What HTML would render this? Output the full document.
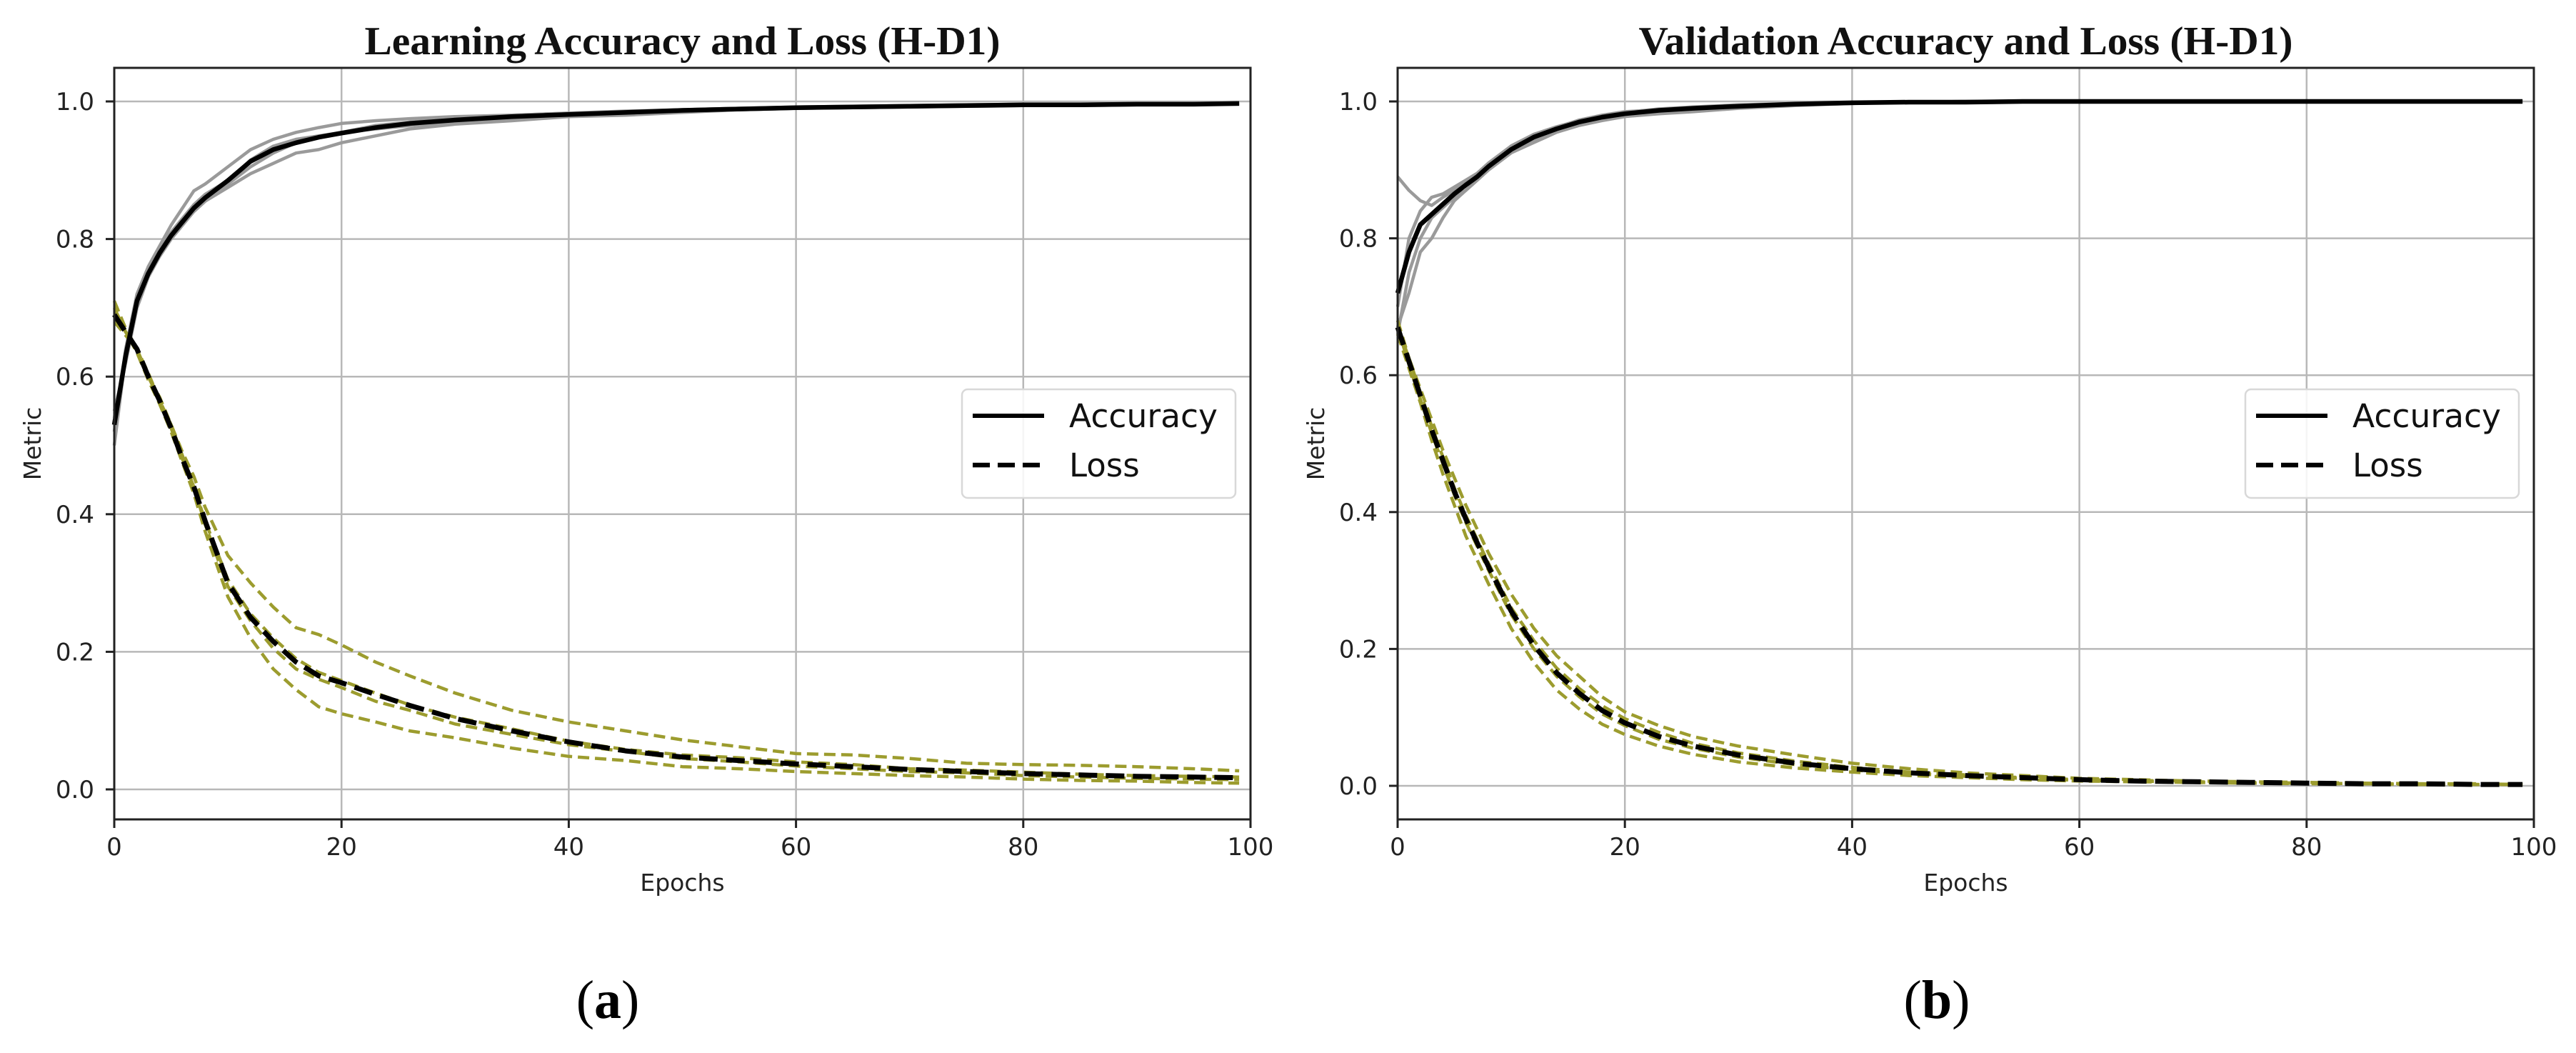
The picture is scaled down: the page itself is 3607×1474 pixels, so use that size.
<!DOCTYPE html>
<html><head><meta charset="utf-8"><style>
html,body{margin:0;padding:0;background:#fff}
svg{display:block}
</style></head><body>
<svg id="fig" width="3607" height="1474" viewBox="0 0 3607 1474" xmlns="http://www.w3.org/2000/svg">
<rect width="3607" height="1474" fill="#fff"/>
</svg>
<script>
const epochs = [0,1,2,3,4,5,6,7,8,10,12,14,16,18,20,23,26,30,35,40,45,50,55,60,65,70,75,80,85,90,95,99];
const xTicks = [0,20,40,60,80,100];
const yTicks = [0.0,0.2,0.4,0.6,0.8,1.0];
const yTickLabels = ["0.0","0.2","0.4","0.6","0.8","1.0"];

// Left (a) learning
const trainAccMean = [0.53,0.63,0.71,0.75,0.78,0.805,0.825,0.845,0.86,0.885,0.913,0.93,0.94,0.948,0.954,0.962,0.968,0.973,0.978,0.981,0.984,0.987,0.989,0.991,0.992,0.993,0.994,0.995,0.995,0.996,0.996,0.997];
const trainAccRun1 = [0.52,0.64,0.72,0.76,0.79,0.82,0.845,0.87,0.88,0.905,0.93,0.945,0.955,0.962,0.968,0.972,0.975,0.978,0.98,0.983,0.985,0.988,0.99,0.99,0.992,0.993,0.994,0.995,0.996,0.996,0.997,0.997];
const trainAccRun2 = [0.55,0.62,0.7,0.745,0.775,0.8,0.82,0.84,0.855,0.875,0.895,0.91,0.925,0.93,0.94,0.95,0.96,0.967,0.972,0.978,0.98,0.984,0.988,0.99,0.991,0.992,0.994,0.994,0.995,0.995,0.996,0.997];
const trainAccRun3 = [0.5,0.63,0.71,0.75,0.78,0.805,0.825,0.84,0.855,0.88,0.905,0.925,0.94,0.948,0.955,0.965,0.97,0.975,0.98,0.983,0.986,0.988,0.99,0.992,0.993,0.994,0.995,0.996,0.996,0.997,0.997,0.998];
const trainAccRun4 = [0.54,0.63,0.71,0.75,0.785,0.81,0.83,0.85,0.865,0.885,0.915,0.935,0.945,0.95,0.955,0.96,0.965,0.97,0.975,0.979,0.983,0.986,0.988,0.99,0.991,0.992,0.993,0.994,0.994,0.995,0.996,0.996];
const trainLossMean = [0.69,0.665,0.64,0.6,0.565,0.525,0.48,0.44,0.39,0.3,0.25,0.215,0.185,0.165,0.155,0.138,0.122,0.103,0.085,0.069,0.056,0.047,0.042,0.037,0.033,0.029,0.026,0.023,0.021,0.019,0.018,0.017];
const trainLossRun1 = [0.71,0.67,0.64,0.6,0.57,0.53,0.49,0.455,0.41,0.34,0.3,0.265,0.235,0.225,0.21,0.185,0.165,0.14,0.115,0.098,0.085,0.072,0.062,0.052,0.05,0.045,0.038,0.036,0.035,0.033,0.03,0.027];
const trainLossRun2 = [0.7,0.665,0.635,0.595,0.56,0.52,0.475,0.43,0.375,0.28,0.22,0.175,0.145,0.12,0.11,0.098,0.085,0.075,0.06,0.048,0.042,0.033,0.03,0.026,0.023,0.02,0.018,0.015,0.013,0.012,0.01,0.009];
const trainLossRun3 = [0.68,0.66,0.64,0.6,0.565,0.525,0.48,0.44,0.39,0.305,0.255,0.22,0.19,0.17,0.158,0.14,0.123,0.105,0.088,0.07,0.058,0.05,0.046,0.04,0.036,0.03,0.028,0.025,0.022,0.02,0.019,0.018];
const trainLossRun4 = [0.69,0.665,0.64,0.605,0.565,0.53,0.485,0.44,0.385,0.295,0.245,0.205,0.175,0.16,0.148,0.128,0.115,0.095,0.08,0.065,0.055,0.045,0.04,0.034,0.03,0.026,0.024,0.02,0.018,0.016,0.015,0.014];

// Right (b) validation
const valAccMean = [0.72,0.78,0.82,0.835,0.85,0.865,0.878,0.89,0.905,0.93,0.948,0.96,0.97,0.977,0.982,0.987,0.99,0.993,0.996,0.998,0.999,0.999,1.0,1.0,1.0,1.0,1.0,1.0,1.0,1.0,1.0,1.0];
const valAccRun1 = [0.89,0.87,0.855,0.848,0.86,0.87,0.88,0.893,0.905,0.935,0.952,0.962,0.973,0.98,0.985,0.988,0.991,0.994,0.996,0.998,0.999,1.0,1.0,1.0,1.0,1.0,1.0,1.0,1.0,1.0,1.0,1.0];
const valAccRun2 = [0.67,0.72,0.78,0.8,0.83,0.855,0.87,0.885,0.9,0.925,0.94,0.955,0.965,0.972,0.978,0.982,0.985,0.99,0.994,0.997,0.999,0.999,1.0,1.0,1.0,1.0,1.0,1.0,1.0,1.0,1.0,1.0];
const valAccRun3 = [0.7,0.8,0.84,0.86,0.865,0.875,0.885,0.895,0.91,0.935,0.952,0.963,0.972,0.979,0.984,0.989,0.992,0.995,0.997,0.998,0.999,1.0,1.0,1.0,1.0,1.0,1.0,1.0,1.0,1.0,1.0,1.0];
const valAccRun4 = [0.66,0.75,0.8,0.83,0.845,0.86,0.87,0.885,0.9,0.925,0.945,0.958,0.968,0.975,0.98,0.985,0.988,0.992,0.995,0.997,0.999,1.0,1.0,1.0,1.0,1.0,1.0,1.0,1.0,1.0,1.0,1.0];
const valLossMean = [0.67,0.62,0.57,0.52,0.475,0.43,0.39,0.355,0.32,0.255,0.205,0.165,0.135,0.11,0.092,0.072,0.058,0.045,0.033,0.025,0.019,0.015,0.012,0.009,0.007,0.006,0.005,0.004,0.003,0.003,0.002,0.002];
const valLossRun1 = [0.67,0.625,0.58,0.535,0.49,0.45,0.41,0.375,0.34,0.28,0.23,0.19,0.16,0.13,0.108,0.088,0.072,0.058,0.045,0.033,0.025,0.019,0.015,0.011,0.009,0.007,0.006,0.005,0.004,0.003,0.003,0.002];
const valLossRun2 = [0.66,0.61,0.56,0.505,0.455,0.41,0.365,0.33,0.295,0.23,0.18,0.14,0.112,0.09,0.075,0.058,0.046,0.035,0.026,0.02,0.015,0.012,0.009,0.007,0.006,0.005,0.004,0.003,0.003,0.002,0.002,0.002];
const valLossRun3 = [0.68,0.625,0.575,0.525,0.48,0.435,0.395,0.36,0.325,0.26,0.212,0.172,0.142,0.117,0.098,0.078,0.062,0.048,0.036,0.027,0.02,0.016,0.012,0.009,0.008,0.006,0.005,0.004,0.003,0.003,0.002,0.002];
const valLossRun4 = [0.67,0.615,0.565,0.515,0.47,0.425,0.385,0.35,0.315,0.25,0.2,0.16,0.13,0.105,0.088,0.068,0.055,0.042,0.031,0.023,0.018,0.014,0.011,0.008,0.007,0.005,0.004,0.004,0.003,0.002,0.002,0.002];

const NS = "http://www.w3.org/2000/svg";
const svg = document.getElementById('fig');
function mk(tag, attrs, parent){
  const e = document.createElementNS(NS, tag);
  for (const k in attrs) e.setAttribute(k, attrs[k]);
  (parent||svg).appendChild(e);
  return e;
}

function panel(cfg){
  const g = mk('g', {});
  
  
  const L=cfg.left, R=cfg.right, T=95, B=1147;
  const xs = v => L + (v/100)*(R-L);
  const ys = v => cfg.y0 - v*(cfg.y0-142);
  xTicks.forEach(t=>{
    const l = mk('line',{x1:xs(t),x2:xs(t),y1:T,y2:B,stroke:'#b8b8b8','stroke-width':2.5},g);
    
    
  });
  yTicks.forEach(t=>{
    const l = mk('line',{x1:L,x2:R,y1:ys(t),y2:ys(t),stroke:'#b8b8b8','stroke-width':2.5},g);
    
    
  });
  function line(arr, stroke, w, dash, nm){
    const pts = epochs.map((e,i)=>xs(e).toFixed(1)+','+ys(arr[i]).toFixed(1)).join(' ');
    const a = {points:pts,fill:'none',stroke:stroke,'stroke-width':w,'stroke-linejoin':'round'};
    if (dash) a['stroke-dasharray']=dash;
    const p = mk('polyline',a,g);
    
    
  }
  cfg.accRuns.forEach(r=>line(r,'#9a9a9a',4.5,null,'accuracy-run'));
  cfg.lossRuns.forEach(r=>line(r,'#9c9c2e',4.5,'16 8','loss-run'));
  line(cfg.accMean,'#000',6.5,null,'accuracy-mean');
  line(cfg.lossMean,'#000',7,'26 12','loss-mean');
  const sp = mk('rect',{x:L,y:T,width:R-L,height:B-T,fill:'none',stroke:'#222','stroke-width':3},g);
  
  
  xTicks.forEach(t=>{
    mk('line',{x1:xs(t),x2:xs(t),y1:B,y2:B+12,stroke:'#222','stroke-width':3},g);
    const tx = mk('text',{x:xs(t),y:B+50,'text-anchor':'middle','font-size':34,'font-family':'DejaVu Sans, Liberation Sans, sans-serif',fill:'#222'},g);
    tx.textContent = String(t);
    
    
  });
  yTicks.forEach((t,i)=>{
    mk('line',{x1:L-12,x2:L,y1:ys(t),y2:ys(t),stroke:'#222','stroke-width':3},g);
    const tx = mk('text',{x:L-28,y:ys(t)+12,'text-anchor':'end','font-size':34,'font-family':'DejaVu Sans, Liberation Sans, sans-serif',fill:'#222'},g);
    tx.textContent = yTickLabels[i];
    
    
  });
  const xl = mk('text',{x:(L+R)/2,y:1247,'text-anchor':'middle','font-size':33,'font-family':'DejaVu Sans, Liberation Sans, sans-serif',fill:'#222'},g);
  xl.textContent='Epochs';
  
  
  const yl = mk('text',{x:0,y:0,'text-anchor':'middle','font-size':33,'font-family':'DejaVu Sans, Liberation Sans, sans-serif',fill:'#222',transform:`translate(${L-103},621) rotate(-90)`},g);
  yl.textContent='Metric';
  
  
  const ti = mk('text',{x:(L+R)/2,y:76,'text-anchor':'middle','font-size':56,'font-weight':'bold','font-family':'Liberation Serif, serif',fill:'#111',textLength:cfg.titleW,lengthAdjust:'spacingAndGlyphs'},g);
  ti.textContent=cfg.title;
  
  
  const lg = mk('g',{},g);
  
  
  const lx = L+1187;
  mk('rect',{x:lx,y:545,width:383,height:152,rx:8,fill:'#fff','fill-opacity':0.85,stroke:'#d8d8d8','stroke-width':2.5},lg);
  mk('line',{x1:lx+15,x2:lx+115,y1:582,y2:582,stroke:'#000','stroke-width':6},lg);
  mk('line',{x1:lx+15,x2:lx+115,y1:651,y2:651,stroke:'#000','stroke-width':6.5,'stroke-dasharray':'24 11'},lg);
  const t1 = mk('text',{x:lx+150,y:598,'font-size':45,'font-family':'DejaVu Sans, Liberation Sans, sans-serif',fill:'#111',textLength:208,lengthAdjust:'spacingAndGlyphs'},lg);
  t1.textContent='Accuracy';
  
  
  const t2 = mk('text',{x:lx+150,y:667,'font-size':45,'font-family':'DejaVu Sans, Liberation Sans, sans-serif',fill:'#111'},lg);
  t2.textContent='Loss';
  
  
  const cap = mk('text',{x:cfg.capX,y:1425,'text-anchor':'middle','font-size':76,'font-family':'Liberation Serif, serif',fill:'#000'},g);
  cap.innerHTML = '(<tspan font-weight="bold">'+cfg.cap+'</tspan>)';
  
  
}

panel({name:'learning-chart',left:160,right:1751,y0:1105,title:'Learning Accuracy and Loss (H-D1)',titleW:890,
  accRuns:[trainAccRun1,trainAccRun2,trainAccRun3,trainAccRun4],lossRuns:[trainLossRun1,trainLossRun2,trainLossRun3,trainLossRun4],
  accMean:trainAccMean,lossMean:trainLossMean,capX:851,cap:'a'});
panel({name:'validation-chart',left:1957,right:3548,y0:1100,title:'Validation Accuracy and Loss (H-D1)',titleW:916,
  accRuns:[valAccRun1,valAccRun2,valAccRun3,valAccRun4],lossRuns:[valLossRun1,valLossRun2,valLossRun3,valLossRun4],
  accMean:valAccMean,lossMean:valLossMean,capX:2712,cap:'b'});
</script>
</body></html>
